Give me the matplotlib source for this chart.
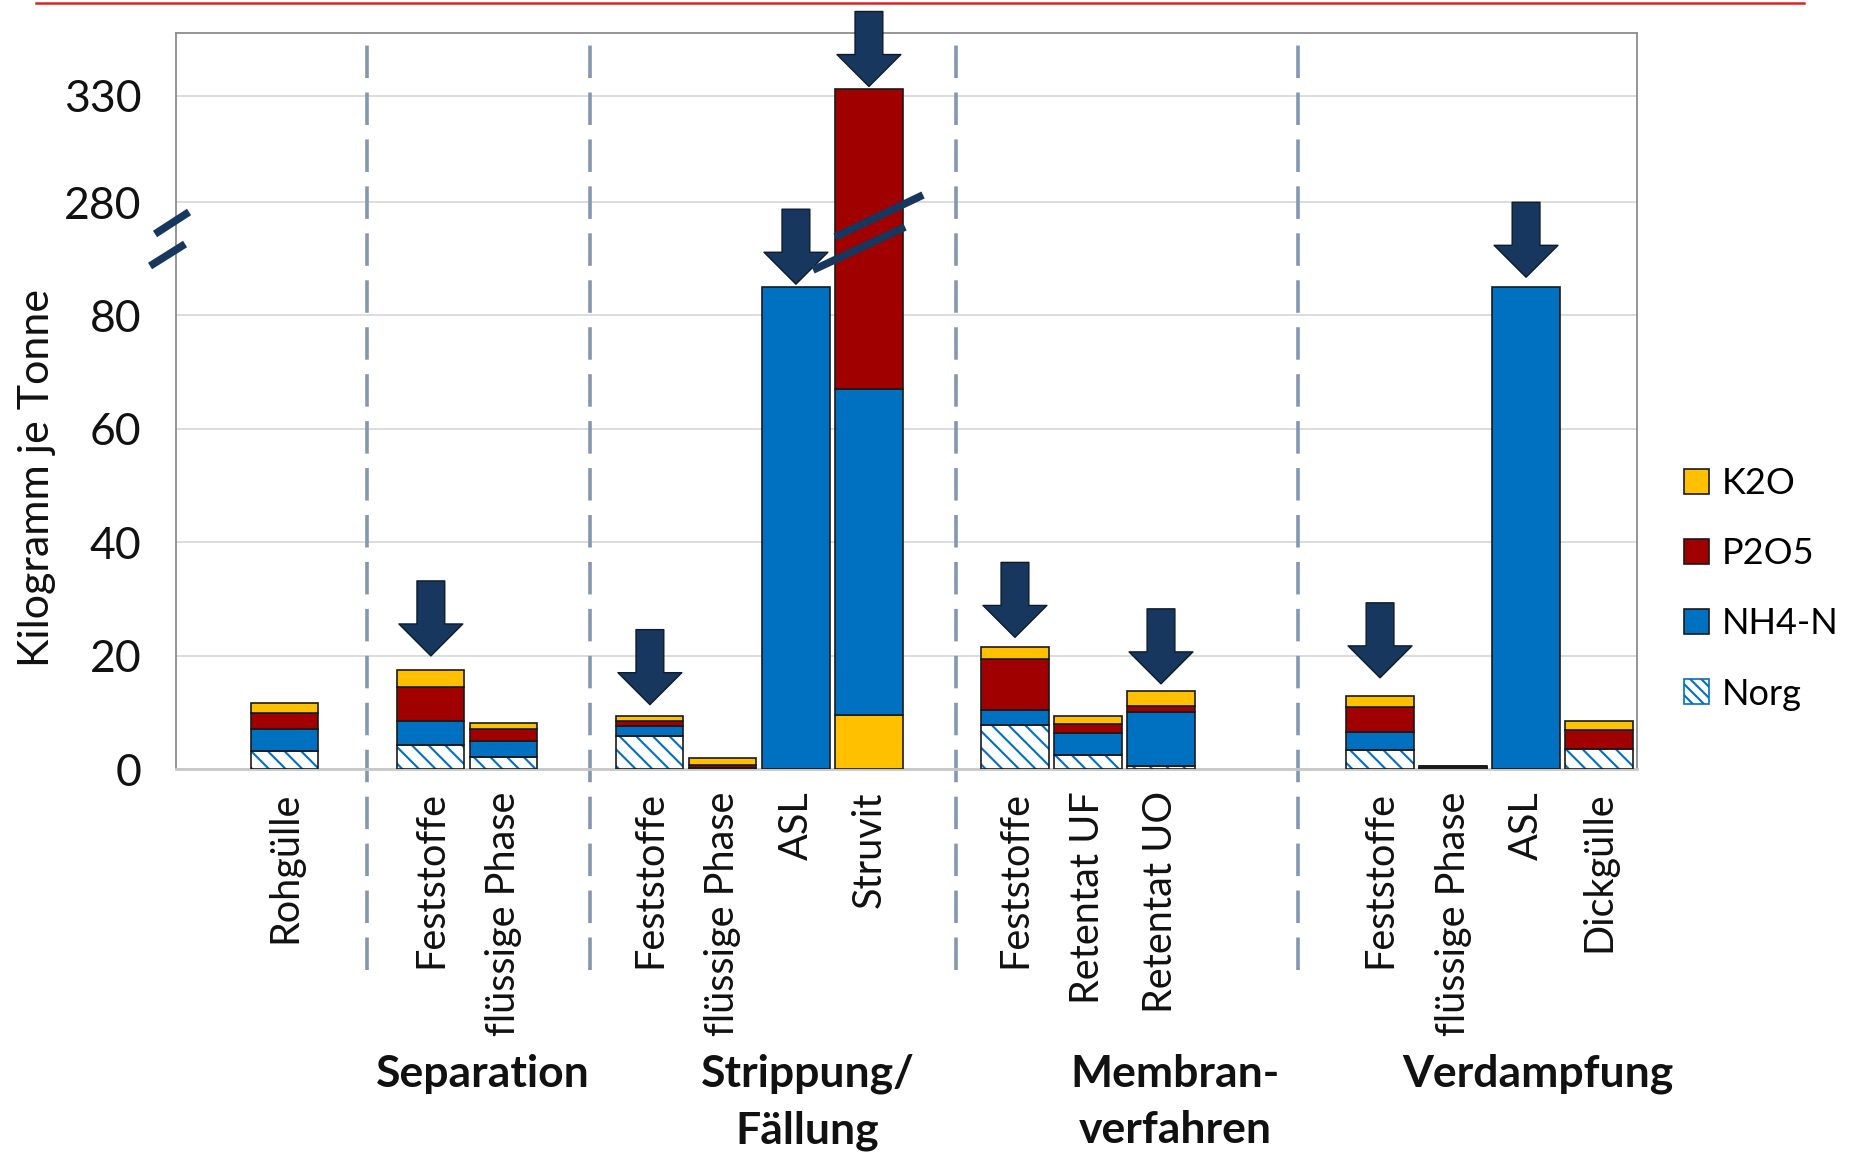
import numpy as np
import matplotlib
matplotlib.use('Agg')
import matplotlib.pyplot as plt
import matplotlib.transforms as mtransforms
from matplotlib.patches import Patch
from matplotlib.lines import Line2D

plt.rcParams['font.family'] = ['Lato', 'DejaVu Sans']
plt.rcParams['hatch.linewidth'] = 1.5

# Naehrstoffgehalte in kg je Tonne
kategorien = ['Rohgülle', 'Feststoffe', 'flüssige Phase', 'Feststoffe', 'flüssige Phase',
              'ASL', 'Struvit', 'Feststoffe', 'Retentat UF', 'Retentat UO',
              'Feststoffe', 'flüssige Phase', 'ASL', 'Dickgülle']
slots = [0, 2, 3, 5, 6, 7, 8, 10, 11, 12, 15, 16, 17, 18]
norg = [3.1, 4.2, 2.1, 5.9, 0.1, 0.0, 0.0, 7.7, 2.5, 0.6, 3.3, 0.1, 0.0, 3.6]
nh4n = [4.0, 4.2, 2.9, 1.7, 0.1, 85.0, 57.6, 2.7, 3.8, 9.4, 3.2, 0.3, 85.0, 0.0]
p2o5 = [2.7, 6.0, 2.1, 0.9, 0.5, 0.0, 266.0, 9.0, 1.6, 1.1, 4.4, 0.05, 0.0, 3.3]
k2o = [1.9, 3.1, 1.0, 0.9, 1.3, 0.0, 9.5, 2.1, 1.5, 2.7, 2.0, 0.05, 0.0, 1.6]
k2o_unten = [False] * 6 + [True] + [False] * 7   # beim Struvit liegt K2O unten

gruppen = ['Separation', 'Strippung/\nFällung', 'Membran-\nverfahren', 'Verdampfung']
gruppen_x = [2.71, 7.16, 12.19, 17.16]
trenner_x = [1.12, 4.18, 9.19, 13.87]

# Pfeile: Index der Saeule und Abstand zur Saeulenoberkante (pt)
pfeil_idx = [1, 3, 5, 6, 7, 9, 10, 12]
pfeil_abstand = [10, 8, 2, 2, 7, 5, 13, 7]

y_ticks = [0, 20, 40, 60, 80, 280, 330]

GELB = '#FFC000'
ROT = '#A00000'
BLAU = '#0070C0'
NAVY = '#17375E'

# unterbrochene y-Achse: 0-90 linear, darueber gestaucht
knick_in = [-100, 0, 90, 280, 330, 600]
knick_out = [-100, 0, 90, 99.9, 118.7, 220.2]


def vorwaerts(y):
    return np.interp(y, knick_in, knick_out)


def rueckwaerts(u):
    return np.interp(u, knick_out, knick_in)


fig = plt.figure(figsize=(18.55, 11.53), dpi=100)
ax = fig.add_axes([0.0949, 0.333, 0.7876, 0.6384])
ax.set_yscale('function', functions=(vorwaerts, rueckwaerts))
ax.set_xlim(-1.49, 18.52)
ax.set_ylim(0, 359.5)

breite = 0.92
for i, x in enumerate(slots):
    if k2o_unten[i]:
        teile = [('k2o', k2o[i]), ('nh4n', nh4n[i]), ('p2o5', p2o5[i])]
    else:
        teile = [('norg', norg[i]), ('nh4n', nh4n[i]), ('p2o5', p2o5[i]), ('k2o', k2o[i])]
    unten = 0.0
    for name, wert in teile:
        if wert <= 0:
            continue
        if name == 'norg':
            ax.bar(x, wert, breite, bottom=unten, facecolor='white', edgecolor=BLAU,
                   hatch='\\\\', linewidth=0, zorder=3)
            ax.bar(x, wert, breite, bottom=unten, fill=False, edgecolor='#1a1a1a',
                   linewidth=1.2, zorder=4)
        else:
            farbe = {'nh4n': BLAU, 'p2o5': ROT, 'k2o': GELB}[name]
            ax.bar(x, wert, breite, bottom=unten, color=farbe, edgecolor='#1a1a1a',
                   linewidth=1.2, zorder=3)
        unten += wert

# Pfeile ueber den hervorgehobenen Produkten
for idx, abstand in zip(pfeil_idx, pfeil_abstand):
    gesamt = norg[idx] + nh4n[idx] + p2o5[idx] + k2o[idx]
    ax.annotate('', xy=(slots[idx], gesamt), xytext=(0, 54 + abstand),
                textcoords='offset points', annotation_clip=False,
                arrowprops=dict(arrowstyle='simple,head_length=2.3,head_width=4.6,tail_width=2.0',
                                mutation_scale=10, fc=NAVY, ec='#0d1b2a', lw=1.0,
                                shrinkA=0, shrinkB=abstand), zorder=6)

ax.set_yticks(y_ticks)
ax.set_yticklabels([str(t) for t in y_ticks], fontsize=32, color='#111111')
ax.tick_params(axis='y', length=0, pad=25)
ax.grid(axis='y', color='#D9D9D9', linewidth=1.3, zorder=0)
ax.set_axisbelow(True)

ax.set_xticks(slots)
ax.set_xticklabels(kategorien, rotation=90, fontsize=28.5, color='#111111')
ax.tick_params(axis='x', length=0, pad=16)

for s in ['left', 'top', 'right']:
    ax.spines[s].set_color('#8c8c8c')
    ax.spines[s].set_linewidth(1.3)
ax.spines['bottom'].set_color('#C8C8C8')
ax.spines['bottom'].set_linewidth(2.0)

# gestrichelte Trennlinien zwischen den Verfahren
for x in trenner_x:
    ax.axvline(x, ymin=-0.273, ymax=1.0, color='#8497B0', linewidth=2.6,
               dashes=(9, 4), clip_on=False, zorder=1)

# Achsenbruch links und im Struvit-Balken
for (x0, x1), (y0, y1) in [((-0.0144, 0.0089), (0.7269, 0.7568)),
                           ((-0.0178, 0.0062), (0.6834, 0.7133)),
                           ((0.4511, 0.5113), (0.7228, 0.7799)),
                           ((0.4360, 0.4990), (0.6780, 0.7364))]:
    ax.plot([x0, x1], [y0, y1], transform=ax.transAxes, color=NAVY, linewidth=5.5,
            solid_capstyle='butt', clip_on=False, zorder=7)

# Verfahrensgruppen unter den Kategorien
blend = mtransforms.blended_transform_factory(ax.transData, fig.transFigure)
for name, x in zip(gruppen, gruppen_x):
    fig.text(x, 0.086, name, transform=blend, ha='center', va='top',
             multialignment='center', fontsize=32, fontweight='bold',
             color='#111111', linespacing=1.5)

fig.text(0.02, 0.585, 'Kilogramm je Tonne', rotation=90, ha='center', va='center',
         fontsize=31, color='#111111')

handles = [Patch(facecolor=GELB, edgecolor='#1a1a1a', linewidth=1.2),
           Patch(facecolor=ROT, edgecolor='#1a1a1a', linewidth=1.2),
           Patch(facecolor=BLAU, edgecolor='#1a1a1a', linewidth=1.2),
           Patch(facecolor='white', edgecolor=BLAU, hatch='\\\\\\', linewidth=1.2)]
fig.legend(handles, ['K2O', 'P2O5', 'NH4-N', 'Norg'], loc='upper left',
           bbox_to_anchor=(0.908, 0.595), frameon=False, fontsize=26,
           handlelength=0.68, handleheight=0.68, handletextpad=0.35,
           labelspacing=1.03, borderpad=0, borderaxespad=0)

fig.add_artist(Line2D([0.0194, 0.9725], [0.997, 0.997], transform=fig.transFigure,
                      color='#D9261C', linewidth=1.8))

fig.savefig('out.png', dpi=100)
